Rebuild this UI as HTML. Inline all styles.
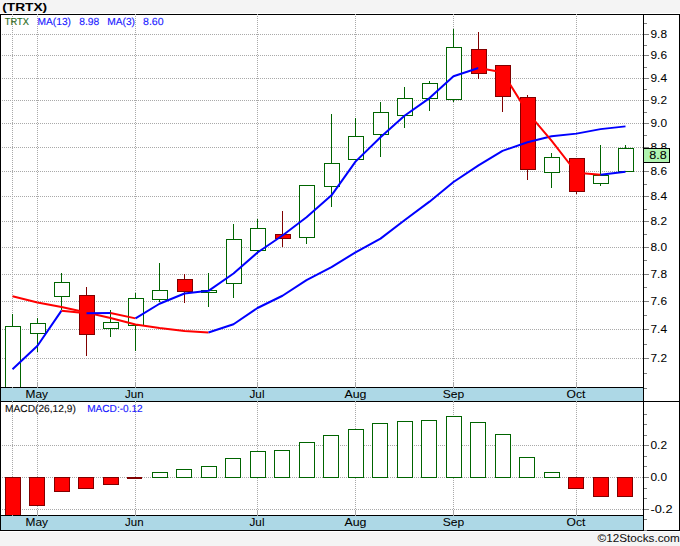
<!DOCTYPE html><html><head><meta charset="utf-8"><title>TRTX</title><style>html,body{margin:0;padding:0;background:#f4f4f4;}body{width:680px;height:546px;overflow:hidden}</style></head><body><svg width="680" height="546" viewBox="0 0 680 546" style="display:block;font-family:'Liberation Sans',sans-serif"><rect width="680" height="546" fill="#f4f4f4"/><rect x="0" y="13" width="680" height="519" fill="#fff" shape-rendering="crispEdges"/><g shape-rendering="crispEdges"><line x1="2" x2="643" y1="34.5" y2="34.5" stroke="#a9a9a9" stroke-dasharray="1 1"/><line x1="2" x2="643" y1="55.5" y2="55.5" stroke="#a9a9a9" stroke-dasharray="1 1"/><line x1="2" x2="643" y1="78.5" y2="78.5" stroke="#a9a9a9" stroke-dasharray="1 1"/><line x1="2" x2="643" y1="100.5" y2="100.5" stroke="#a9a9a9" stroke-dasharray="1 1"/><line x1="2" x2="643" y1="123.5" y2="123.5" stroke="#a9a9a9" stroke-dasharray="1 1"/><line x1="2" x2="643" y1="147.5" y2="147.5" stroke="#a9a9a9" stroke-dasharray="1 1"/><line x1="2" x2="643" y1="171.5" y2="171.5" stroke="#a9a9a9" stroke-dasharray="1 1"/><line x1="2" x2="643" y1="196.5" y2="196.5" stroke="#a9a9a9" stroke-dasharray="1 1"/><line x1="2" x2="643" y1="221.5" y2="221.5" stroke="#a9a9a9" stroke-dasharray="1 1"/><line x1="2" x2="643" y1="247.5" y2="247.5" stroke="#a9a9a9" stroke-dasharray="1 1"/><line x1="2" x2="643" y1="274.5" y2="274.5" stroke="#a9a9a9" stroke-dasharray="1 1"/><line x1="2" x2="643" y1="301.5" y2="301.5" stroke="#a9a9a9" stroke-dasharray="1 1"/><line x1="2" x2="643" y1="329.5" y2="329.5" stroke="#a9a9a9" stroke-dasharray="1 1"/><line x1="2" x2="643" y1="358.5" y2="358.5" stroke="#a9a9a9" stroke-dasharray="1 1"/><line x1="2" x2="643" y1="445.5" y2="445.5" stroke="#a9a9a9" stroke-dasharray="1 1"/><line x1="2" x2="643" y1="477.5" y2="477.5" stroke="#a9a9a9" stroke-dasharray="1 1"/><line x1="2" x2="643" y1="509.5" y2="509.5" stroke="#a9a9a9" stroke-dasharray="1 1"/><line x1="12.5" x2="12.5" y1="16" y2="387" stroke="#a9a9a9" stroke-dasharray="1 1"/><line x1="12.5" x2="12.5" y1="402" y2="515" stroke="#a9a9a9" stroke-dasharray="1 1"/><line x1="37.5" x2="37.5" y1="16" y2="387" stroke="#a9a9a9" stroke-dasharray="1 1"/><line x1="37.5" x2="37.5" y1="402" y2="515" stroke="#a9a9a9" stroke-dasharray="1 1"/><line x1="37.5" x2="37.5" y1="382" y2="387" stroke="#a9a9a9"/><line x1="37.5" x2="37.5" y1="510" y2="515" stroke="#a9a9a9"/><line x1="135.5" x2="135.5" y1="16" y2="387" stroke="#a9a9a9" stroke-dasharray="1 1"/><line x1="135.5" x2="135.5" y1="402" y2="515" stroke="#a9a9a9" stroke-dasharray="1 1"/><line x1="135.5" x2="135.5" y1="382" y2="387" stroke="#a9a9a9"/><line x1="135.5" x2="135.5" y1="510" y2="515" stroke="#a9a9a9"/><line x1="257.5" x2="257.5" y1="16" y2="387" stroke="#a9a9a9" stroke-dasharray="1 1"/><line x1="257.5" x2="257.5" y1="402" y2="515" stroke="#a9a9a9" stroke-dasharray="1 1"/><line x1="257.5" x2="257.5" y1="382" y2="387" stroke="#a9a9a9"/><line x1="257.5" x2="257.5" y1="510" y2="515" stroke="#a9a9a9"/><line x1="355.5" x2="355.5" y1="16" y2="387" stroke="#a9a9a9" stroke-dasharray="1 1"/><line x1="355.5" x2="355.5" y1="402" y2="515" stroke="#a9a9a9" stroke-dasharray="1 1"/><line x1="355.5" x2="355.5" y1="382" y2="387" stroke="#a9a9a9"/><line x1="355.5" x2="355.5" y1="510" y2="515" stroke="#a9a9a9"/><line x1="453.5" x2="453.5" y1="16" y2="387" stroke="#a9a9a9" stroke-dasharray="1 1"/><line x1="453.5" x2="453.5" y1="402" y2="515" stroke="#a9a9a9" stroke-dasharray="1 1"/><line x1="453.5" x2="453.5" y1="382" y2="387" stroke="#a9a9a9"/><line x1="453.5" x2="453.5" y1="510" y2="515" stroke="#a9a9a9"/><line x1="576.5" x2="576.5" y1="16" y2="387" stroke="#a9a9a9" stroke-dasharray="1 1"/><line x1="576.5" x2="576.5" y1="402" y2="515" stroke="#a9a9a9" stroke-dasharray="1 1"/><line x1="576.5" x2="576.5" y1="382" y2="387" stroke="#a9a9a9"/><line x1="576.5" x2="576.5" y1="510" y2="515" stroke="#a9a9a9"/><line x1="12.5" x2="12.5" y1="314" y2="387" stroke="#006400"/><rect x="5.5" y="326.5" width="15" height="61" fill="#fff" stroke="#006400"/><line x1="37.5" x2="37.5" y1="318" y2="352" stroke="#006400"/><rect x="30.5" y="323.5" width="15" height="10" fill="#fff" stroke="#006400"/><line x1="61.5" x2="61.5" y1="273" y2="310" stroke="#006400"/><rect x="54.5" y="282.5" width="15" height="14" fill="#fff" stroke="#006400"/><line x1="86.5" x2="86.5" y1="287" y2="356" stroke="#800000"/><rect x="79.5" y="295.5" width="15" height="39" fill="#ff0000" stroke="#800000"/><line x1="110.5" x2="110.5" y1="310" y2="337" stroke="#006400"/><rect x="103.5" y="322.5" width="15" height="6" fill="#fff" stroke="#006400"/><line x1="135.5" x2="135.5" y1="293" y2="351" stroke="#006400"/><rect x="128.5" y="298.5" width="15" height="27" fill="#fff" stroke="#006400"/><line x1="159.5" x2="159.5" y1="263" y2="302" stroke="#006400"/><rect x="152.5" y="290.5" width="15" height="9" fill="#fff" stroke="#006400"/><line x1="184.5" x2="184.5" y1="274" y2="303" stroke="#800000"/><rect x="177.5" y="279.5" width="15" height="12" fill="#ff0000" stroke="#800000"/><line x1="208.5" x2="208.5" y1="273" y2="307" stroke="#006400"/><rect x="201.5" y="290.5" width="15" height="2" fill="#fff" stroke="#006400"/><line x1="233.5" x2="233.5" y1="224" y2="298" stroke="#006400"/><rect x="226.5" y="239.5" width="15" height="44" fill="#fff" stroke="#006400"/><line x1="257.5" x2="257.5" y1="219" y2="254" stroke="#006400"/><rect x="250.5" y="228.5" width="15" height="22" fill="#fff" stroke="#006400"/><line x1="282.5" x2="282.5" y1="211" y2="247" stroke="#800000"/><rect x="275.5" y="234.5" width="15" height="4" fill="#ff0000" stroke="#800000"/><line x1="306.5" x2="306.5" y1="185" y2="244" stroke="#006400"/><rect x="299.5" y="185.5" width="15" height="52" fill="#fff" stroke="#006400"/><line x1="331.5" x2="331.5" y1="114" y2="207" stroke="#006400"/><rect x="324.5" y="163.5" width="15" height="23" fill="#fff" stroke="#006400"/><line x1="355.5" x2="355.5" y1="118" y2="160" stroke="#006400"/><rect x="348.5" y="136.5" width="15" height="23" fill="#fff" stroke="#006400"/><line x1="380.5" x2="380.5" y1="102" y2="157" stroke="#006400"/><rect x="373.5" y="112.5" width="15" height="22" fill="#fff" stroke="#006400"/><line x1="404.5" x2="404.5" y1="87" y2="128" stroke="#006400"/><rect x="397.5" y="98.5" width="15" height="17" fill="#fff" stroke="#006400"/><line x1="429.5" x2="429.5" y1="81" y2="111" stroke="#006400"/><rect x="422.5" y="83.5" width="15" height="15" fill="#fff" stroke="#006400"/><line x1="453.5" x2="453.5" y1="29" y2="102" stroke="#006400"/><rect x="446.5" y="47.5" width="15" height="52" fill="#fff" stroke="#006400"/><line x1="478.5" x2="478.5" y1="32" y2="79" stroke="#800000"/><rect x="471.5" y="49.5" width="15" height="24" fill="#ff0000" stroke="#800000"/><line x1="502.5" x2="502.5" y1="65" y2="112" stroke="#800000"/><rect x="495.5" y="65.5" width="15" height="31" fill="#ff0000" stroke="#800000"/><line x1="527.5" x2="527.5" y1="95" y2="180" stroke="#800000"/><rect x="520.5" y="97.5" width="15" height="72" fill="#ff0000" stroke="#800000"/><line x1="551.5" x2="551.5" y1="153" y2="188" stroke="#006400"/><rect x="544.5" y="157.5" width="15" height="15" fill="#fff" stroke="#006400"/><line x1="576.5" x2="576.5" y1="158" y2="194" stroke="#800000"/><rect x="569.5" y="158.5" width="15" height="33" fill="#ff0000" stroke="#800000"/><line x1="600.5" x2="600.5" y1="145" y2="186" stroke="#006400"/><rect x="593.5" y="175.5" width="15" height="8" fill="#fff" stroke="#006400"/><line x1="625.5" x2="625.5" y1="145" y2="172" stroke="#006400"/><rect x="618.5" y="148.5" width="15" height="23" fill="#fff" stroke="#006400"/><rect x="5.5" y="477.5" width="15" height="38" fill="#ff0000" stroke="#800000"/><rect x="29.5" y="477.5" width="15" height="28" fill="#ff0000" stroke="#800000"/><rect x="54.5" y="477.5" width="15" height="14" fill="#ff0000" stroke="#800000"/><rect x="78.5" y="477.5" width="15" height="11" fill="#ff0000" stroke="#800000"/><rect x="103.5" y="477.5" width="15" height="7" fill="#ff0000" stroke="#800000"/><rect x="127" y="477" width="15" height="2" fill="#800000"/><rect x="152.5" y="472.5" width="15" height="5" fill="#fff" stroke="#006400"/><rect x="176.5" y="469.5" width="15" height="8" fill="#fff" stroke="#006400"/><rect x="201.5" y="466.5" width="15" height="11" fill="#fff" stroke="#006400"/><rect x="225.5" y="458.5" width="15" height="19" fill="#fff" stroke="#006400"/><rect x="250.5" y="451.5" width="15" height="26" fill="#fff" stroke="#006400"/><rect x="274.5" y="450.5" width="15" height="27" fill="#fff" stroke="#006400"/><rect x="299.5" y="442.5" width="15" height="35" fill="#fff" stroke="#006400"/><rect x="323.5" y="435.5" width="15" height="42" fill="#fff" stroke="#006400"/><rect x="348.5" y="429.5" width="15" height="48" fill="#fff" stroke="#006400"/><rect x="372.5" y="423.5" width="15" height="54" fill="#fff" stroke="#006400"/><rect x="397.5" y="421.5" width="15" height="56" fill="#fff" stroke="#006400"/><rect x="421.5" y="420.5" width="15" height="57" fill="#fff" stroke="#006400"/><rect x="446.5" y="416.5" width="15" height="61" fill="#fff" stroke="#006400"/><rect x="470.5" y="422.5" width="15" height="55" fill="#fff" stroke="#006400"/><rect x="495.5" y="434.5" width="15" height="43" fill="#fff" stroke="#006400"/><rect x="519.5" y="457.5" width="15" height="20" fill="#fff" stroke="#006400"/><rect x="544.5" y="472.5" width="15" height="5" fill="#fff" stroke="#006400"/><rect x="568.5" y="477.5" width="15" height="11" fill="#ff0000" stroke="#800000"/><rect x="593.5" y="477.5" width="15" height="19" fill="#ff0000" stroke="#800000"/><rect x="617.5" y="477.5" width="15" height="19" fill="#ff0000" stroke="#800000"/></g><polyline points="12.5,296.25 37.5,302.5 61.5,307 86.5,312.5 110.5,318 135.5,324.5 159.5,328 184.5,331 208.5,332.5" fill="none" stroke="#ff0000" stroke-width="2" stroke-linejoin="round" stroke-linecap="butt"/><polyline points="208.5,332.5 233.5,324.25 257.5,308 282.5,295.75 306.5,280.06 331.5,267.16 355.5,252.34 380.5,238.64 404.5,220.22 429.5,201.66 453.5,181.96 478.5,165.37 502.5,150.85 527.5,142.25 551.5,136.29 576.5,133.63 600.5,129.12 625.5,126.38" fill="none" stroke="#0000ff" stroke-width="2" stroke-linejoin="round" stroke-linecap="butt"/><polyline points="12.5,369.25 37.5,345.75 61.5,310.64" fill="none" stroke="#0000ff" stroke-width="2" stroke-linejoin="round" stroke-linecap="butt"/><polyline points="61.5,310.64 86.5,313.26" fill="none" stroke="#ff0000" stroke-width="2" stroke-linejoin="round" stroke-linecap="butt"/><polyline points="86.5,313.26 110.5,312.93" fill="none" stroke="#0000ff" stroke-width="2" stroke-linejoin="round" stroke-linecap="butt"/><polyline points="110.5,312.93 135.5,318.39" fill="none" stroke="#ff0000" stroke-width="2" stroke-linejoin="round" stroke-linecap="butt"/><polyline points="135.5,318.39 159.5,303.75 184.5,293.49 208.5,290.83 233.5,273.55 257.5,252.49 282.5,235.49 306.5,217.25 331.5,195.36 355.5,161.64 380.5,137.29 404.5,115.72 429.5,98.1 453.5,76.28 478.5,68.06" fill="none" stroke="#0000ff" stroke-width="2" stroke-linejoin="round" stroke-linecap="butt"/><polyline points="478.5,68.06 502.5,72.31 527.5,112.38 551.5,140.68 576.5,172.74 600.5,174.74" fill="none" stroke="#ff0000" stroke-width="2" stroke-linejoin="round" stroke-linecap="butt"/><polyline points="600.5,174.74 625.5,171.68" fill="none" stroke="#0000ff" stroke-width="2" stroke-linejoin="round" stroke-linecap="butt"/><g shape-rendering="crispEdges"><rect x="1" y="388" width="642" height="13" fill="#add8e6"/><rect x="1" y="516" width="642" height="14" fill="#add8e6"/><rect x="0" y="387" width="644" height="1" fill="#000"/><rect x="0" y="401" width="680" height="1" fill="#000"/><rect x="0" y="515" width="644" height="1" fill="#000"/><rect x="0" y="14" width="680" height="1" fill="#000"/><rect x="0" y="530" width="680" height="1" fill="#000"/><rect x="0" y="14" width="1" height="517" fill="#000"/><rect x="679" y="14" width="1" height="517" fill="#000"/><rect x="643" y="14" width="1" height="517" fill="#000"/><rect x="12" y="14" width="1" height="1" fill="#aaa"/><rect x="12" y="387" width="1" height="1" fill="#aaa"/><rect x="12" y="401" width="1" height="1" fill="#aaa"/><rect x="12" y="515" width="1" height="1" fill="#aaa"/><rect x="37" y="14" width="1" height="1" fill="#aaa"/><rect x="37" y="387" width="1" height="1" fill="#aaa"/><rect x="37" y="401" width="1" height="1" fill="#aaa"/><rect x="37" y="515" width="1" height="1" fill="#aaa"/><rect x="135" y="14" width="1" height="1" fill="#aaa"/><rect x="135" y="387" width="1" height="1" fill="#aaa"/><rect x="135" y="401" width="1" height="1" fill="#aaa"/><rect x="135" y="515" width="1" height="1" fill="#aaa"/><rect x="257" y="14" width="1" height="1" fill="#aaa"/><rect x="257" y="387" width="1" height="1" fill="#aaa"/><rect x="257" y="401" width="1" height="1" fill="#aaa"/><rect x="257" y="515" width="1" height="1" fill="#aaa"/><rect x="355" y="14" width="1" height="1" fill="#aaa"/><rect x="355" y="387" width="1" height="1" fill="#aaa"/><rect x="355" y="401" width="1" height="1" fill="#aaa"/><rect x="355" y="515" width="1" height="1" fill="#aaa"/><rect x="453" y="14" width="1" height="1" fill="#aaa"/><rect x="453" y="387" width="1" height="1" fill="#aaa"/><rect x="453" y="401" width="1" height="1" fill="#aaa"/><rect x="453" y="515" width="1" height="1" fill="#aaa"/><rect x="576" y="14" width="1" height="1" fill="#aaa"/><rect x="576" y="387" width="1" height="1" fill="#aaa"/><rect x="576" y="401" width="1" height="1" fill="#aaa"/><rect x="576" y="515" width="1" height="1" fill="#aaa"/><rect x="644" y="388" width="3" height="1" fill="#808080"/><rect x="644" y="373" width="3" height="1" fill="#808080"/><rect x="644" y="358" width="5" height="1" fill="#808080"/><rect x="644" y="344" width="3" height="1" fill="#808080"/><rect x="644" y="329" width="5" height="1" fill="#808080"/><rect x="644" y="315" width="3" height="1" fill="#808080"/><rect x="644" y="301" width="5" height="1" fill="#808080"/><rect x="644" y="287" width="3" height="1" fill="#808080"/><rect x="644" y="274" width="5" height="1" fill="#808080"/><rect x="644" y="260" width="3" height="1" fill="#808080"/><rect x="644" y="247" width="5" height="1" fill="#808080"/><rect x="644" y="234" width="3" height="1" fill="#808080"/><rect x="644" y="221" width="5" height="1" fill="#808080"/><rect x="644" y="209" width="3" height="1" fill="#808080"/><rect x="644" y="196" width="5" height="1" fill="#808080"/><rect x="644" y="184" width="3" height="1" fill="#808080"/><rect x="644" y="171" width="5" height="1" fill="#808080"/><rect x="644" y="159" width="3" height="1" fill="#808080"/><rect x="644" y="147" width="5" height="1" fill="#808080"/><rect x="644" y="135" width="3" height="1" fill="#808080"/><rect x="644" y="123" width="5" height="1" fill="#808080"/><rect x="644" y="112" width="3" height="1" fill="#808080"/><rect x="644" y="100" width="5" height="1" fill="#808080"/><rect x="644" y="89" width="3" height="1" fill="#808080"/><rect x="644" y="78" width="5" height="1" fill="#808080"/><rect x="644" y="67" width="3" height="1" fill="#808080"/><rect x="644" y="55" width="5" height="1" fill="#808080"/><rect x="644" y="45" width="3" height="1" fill="#808080"/><rect x="644" y="34" width="5" height="1" fill="#808080"/><rect x="644" y="23" width="3" height="1" fill="#808080"/><rect x="644" y="414" width="3" height="1" fill="#808080"/><rect x="644" y="424" width="3" height="1" fill="#808080"/><rect x="644" y="435" width="3" height="1" fill="#808080"/><rect x="644" y="456" width="3" height="1" fill="#808080"/><rect x="644" y="466" width="3" height="1" fill="#808080"/><rect x="644" y="488" width="3" height="1" fill="#808080"/><rect x="644" y="498" width="3" height="1" fill="#808080"/><rect x="644" y="519" width="3" height="1" fill="#808080"/><rect x="644" y="530" width="3" height="1" fill="#808080"/><rect x="644" y="445" width="5" height="1" fill="#808080"/><rect x="644" y="477" width="5" height="1" fill="#808080"/><rect x="644" y="509" width="5" height="1" fill="#808080"/></g><text x="650.5" y="37.6" font-size="11.5" fill="#000" stroke="#000" stroke-width="0.06" textLength="16.5" lengthAdjust="spacingAndGlyphs">9.8</text><text x="650.5" y="58.6" font-size="11.5" fill="#000" stroke="#000" stroke-width="0.06" textLength="16.5" lengthAdjust="spacingAndGlyphs">9.6</text><text x="650.5" y="81.6" font-size="11.5" fill="#000" stroke="#000" stroke-width="0.06" textLength="16.5" lengthAdjust="spacingAndGlyphs">9.4</text><text x="650.5" y="103.6" font-size="11.5" fill="#000" stroke="#000" stroke-width="0.06" textLength="16.5" lengthAdjust="spacingAndGlyphs">9.2</text><text x="650.5" y="126.6" font-size="11.5" fill="#000" stroke="#000" stroke-width="0.06" textLength="16.5" lengthAdjust="spacingAndGlyphs">9.0</text><text x="650.5" y="150.6" font-size="11.5" fill="#000" stroke="#000" stroke-width="0.06" textLength="16.5" lengthAdjust="spacingAndGlyphs">8.8</text><text x="650.5" y="174.6" font-size="11.5" fill="#000" stroke="#000" stroke-width="0.06" textLength="16.5" lengthAdjust="spacingAndGlyphs">8.6</text><text x="650.5" y="199.6" font-size="11.5" fill="#000" stroke="#000" stroke-width="0.06" textLength="16.5" lengthAdjust="spacingAndGlyphs">8.4</text><text x="650.5" y="224.6" font-size="11.5" fill="#000" stroke="#000" stroke-width="0.06" textLength="16.5" lengthAdjust="spacingAndGlyphs">8.2</text><text x="650.5" y="250.6" font-size="11.5" fill="#000" stroke="#000" stroke-width="0.06" textLength="16.5" lengthAdjust="spacingAndGlyphs">8.0</text><text x="650.5" y="277.6" font-size="11.5" fill="#000" stroke="#000" stroke-width="0.06" textLength="16.5" lengthAdjust="spacingAndGlyphs">7.8</text><text x="650.5" y="304.6" font-size="11.5" fill="#000" stroke="#000" stroke-width="0.06" textLength="16.5" lengthAdjust="spacingAndGlyphs">7.6</text><text x="650.5" y="332.6" font-size="11.5" fill="#000" stroke="#000" stroke-width="0.06" textLength="16.5" lengthAdjust="spacingAndGlyphs">7.4</text><text x="650.5" y="361.6" font-size="11.5" fill="#000" stroke="#000" stroke-width="0.06" textLength="16.5" lengthAdjust="spacingAndGlyphs">7.2</text><text x="650.5" y="448.6" font-size="11.5" fill="#000" stroke="#000" stroke-width="0.06" textLength="16.5" lengthAdjust="spacingAndGlyphs">0.2</text><text x="650.5" y="480.6" font-size="11.5" fill="#000" stroke="#000" stroke-width="0.06" textLength="16.5" lengthAdjust="spacingAndGlyphs">0.0</text><text x="650.5" y="512.6" font-size="11.5" fill="#000" stroke="#000" stroke-width="0.06" textLength="22" lengthAdjust="spacingAndGlyphs">-0.2</text><rect x="643.5" y="148.5" width="26" height="14" fill="#b0f4b0" stroke="#000" shape-rendering="crispEdges"/><text x="649.3" y="158.6" font-size="11.5" fill="#000" stroke="#000" stroke-width="0.06" textLength="17.5" lengthAdjust="spacingAndGlyphs">8.8</text><text x="25.549999999999997" y="398" font-size="11.5" fill="#000" stroke="#000" stroke-width="0.06" textLength="22.5" lengthAdjust="spacingAndGlyphs">May</text><text x="25.549999999999997" y="526" font-size="11.5" fill="#000" stroke="#000" stroke-width="0.06" textLength="22.5" lengthAdjust="spacingAndGlyphs">May</text><text x="125.05000000000001" y="398" font-size="11.5" fill="#000" stroke="#000" stroke-width="0.06" textLength="18.5" lengthAdjust="spacingAndGlyphs">Jun</text><text x="125.05000000000001" y="526" font-size="11.5" fill="#000" stroke="#000" stroke-width="0.06" textLength="18.5" lengthAdjust="spacingAndGlyphs">Jun</text><text x="249.5" y="398" font-size="11.5" fill="#000" stroke="#000" stroke-width="0.06" textLength="15" lengthAdjust="spacingAndGlyphs">Jul</text><text x="249.5" y="526" font-size="11.5" fill="#000" stroke="#000" stroke-width="0.06" textLength="15" lengthAdjust="spacingAndGlyphs">Jul</text><text x="344.5" y="398" font-size="11.5" fill="#000" stroke="#000" stroke-width="0.06" textLength="22" lengthAdjust="spacingAndGlyphs">Aug</text><text x="344.5" y="526" font-size="11.5" fill="#000" stroke="#000" stroke-width="0.06" textLength="22" lengthAdjust="spacingAndGlyphs">Aug</text><text x="442.75" y="398" font-size="11.5" fill="#000" stroke="#000" stroke-width="0.06" textLength="21.5" lengthAdjust="spacingAndGlyphs">Sep</text><text x="442.75" y="526" font-size="11.5" fill="#000" stroke="#000" stroke-width="0.06" textLength="21.5" lengthAdjust="spacingAndGlyphs">Sep</text><text x="566.6" y="398" font-size="11.5" fill="#000" stroke="#000" stroke-width="0.06" textLength="18.8" lengthAdjust="spacingAndGlyphs">Oct</text><text x="566.6" y="526" font-size="11.5" fill="#000" stroke="#000" stroke-width="0.06" textLength="18.8" lengthAdjust="spacingAndGlyphs">Oct</text><text x="2.2" y="10.5" font-size="11.5" fill="#000" textLength="45" lengthAdjust="spacingAndGlyphs" font-weight="bold">(TRTX)</text><text x="4.8" y="25" font-size="10.2" fill="#2a6a1a" stroke="#2a6a1a" stroke-width="0.12" text-rendering="geometricPrecision" textLength="24.2" lengthAdjust="spacingAndGlyphs">TRTX</text><text x="37.5" y="25" font-size="10.2" fill="#1a1aff" stroke="#1a1aff" stroke-width="0.12" text-rendering="geometricPrecision" textLength="33.5" lengthAdjust="spacingAndGlyphs">MA(13)</text><text x="79.3" y="25" font-size="10.2" fill="#1a1aff" stroke="#1a1aff" stroke-width="0.12" text-rendering="geometricPrecision" textLength="20" lengthAdjust="spacingAndGlyphs">8.98</text><text x="107.2" y="25" font-size="10.2" fill="#1a1aff" stroke="#1a1aff" stroke-width="0.12" text-rendering="geometricPrecision" textLength="27.8" lengthAdjust="spacingAndGlyphs">MA(3)</text><text x="143" y="25" font-size="10.2" fill="#1a1aff" stroke="#1a1aff" stroke-width="0.12" text-rendering="geometricPrecision" textLength="20.6" lengthAdjust="spacingAndGlyphs">8.60</text><text x="5" y="412" font-size="10.2" fill="#111" stroke="#111" stroke-width="0.12" text-rendering="geometricPrecision" textLength="70.8" lengthAdjust="spacingAndGlyphs">MACD(26,12,9)</text><text x="87.2" y="412" font-size="10.2" fill="#1a1aff" stroke="#1a1aff" stroke-width="0.12" text-rendering="geometricPrecision" textLength="55.5" lengthAdjust="spacingAndGlyphs">MACD:-0.12</text><text x="597.6" y="541.5" font-size="11.5" fill="#111" stroke="#111" stroke-width="0.06" textLength="82.2" lengthAdjust="spacingAndGlyphs">©12Stocks.com</text></svg></body></html>
